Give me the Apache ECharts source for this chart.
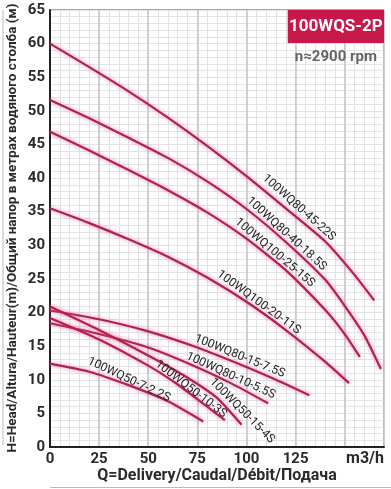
<!DOCTYPE html>
<html><head><meta charset="utf-8">
<script src="https://cdn.jsdelivr.net/npm/echarts@6/dist/echarts.min.js"></script>
<style>html,body{margin:0;padding:0;background:#fff}#c{width:391px;height:489px}</style>
</head><body><div id="c"></div><script>
// ---- data ----
const curveNames = ['100WQ80-45-22S','100WQ80-40-18.5S','100WQ100-25-15S','100WQ100-20-11S','100WQ80-15-7.5S','100WQ80-10-5.5S','100WQ50-15-4S','100WQ50-10-3S','100WQ50-7-2.2S'];
const q1 = [0,20,40,60,80,100,120,140,155,165];
const h1 = [60,56.5,52.9,49.0,44.8,40.3,35.5,30.6,25.6,21.8];
const q2 = [0,20,40,60,80,100,120,140,150,160,168.4];
const h2 = [51.6,48.9,46.0,43.0,39.5,35.4,30.5,24.9,21.0,16.6,11.6];
const q3 = [0,20,40,60,80,100,120,140,150,157.7];
const h3 = [46.9,44.1,41.2,38.2,34.9,31.0,26.3,20.4,16.8,13.4];
const q4 = [0,20,40,60,80,100,120,140,152.2];
const h4 = [35.5,33.3,30.9,28.3,25.2,21.6,17.4,12.7,9.5];
const q5 = [0,25,50,75,96.6,115,132];
const h5 = [20.3,19.0,17.2,14.8,12.3,10.0,7.7];
const q6 = [0,25,50,69,92,111];
const h6 = [18.4,16.8,14.8,12.6,9.5,6.5];
const q7 = [0,25,50,70,85,97.5];
const h7 = [20.9,17.4,13.6,10.3,7.3,3.3];
const q8 = [0,25,50,65,80,89];
const h8 = [19.2,16.0,12.1,9.3,6.0,4.0];
const q9 = [0,20,40,60,78];
const h9 = [12.4,11.2,9.2,6.8,3.8];
// curve label anchors (label centre in data units) and slope angle in degrees
const labelQ = [126.7,120.4,114.4,106.3,96.6,92,97.7,71.7,40.2];
const labelH = [35.6,31.7,28.9,21.5,13.5,10.6,5.4,8.6,10.0];
const labelAngle = [41.6,42,40,36,22,24.5,45,37.5,25];
const xTickLabels = [0,25,50,75,100,125];
const yTickLabels = [0,5,10,15,20,25,30,35,40,45,50,55,60,65];
const title = '100WQS-2P';
const subtitle = 'n\u22482900 rpm';
const xName = 'Q=Delivery/Caudal/D\u00e9bit/\u041f\u043e\u0434\u0430\u0447\u0430';
const yName = 'H=Head/Altura/Hauteur(m)/\u041e\u0431\u0449\u0438\u0439 \u043d\u0430\u043f\u043e\u0440 \u0432 \u043c\u0435\u0442\u0440\u0430\u0445 \u0432\u043e\u0434\u044f\u043d\u043e\u0433\u043e \u0441\u0442\u043e\u043b\u0431\u0430 (\u043c)';
const unitX = 'm3/h';

const Qs=[q1,q2,q3,q4,q5,q6,q7,q8,q9], Hs=[h1,h2,h3,h4,h5,h6,h7,h8,h9];
const FONT = "'Liberation Sans Narrow','Roboto','Noto Sans',sans-serif";
const LINE = '#b0214f';

const chart = echarts.init(document.getElementById('c'), null, {renderer:'canvas'});
const series = curveNames.map((n,i)=>({
  type:'line', name:n, xAxisIndex:0, yAxisIndex:0, smooth:0.2, symbol:'none',
  data: Qs[i].map((q,j)=>[q,Hs[i][j]]),
  lineStyle:{color:LINE,width:2.2,shadowColor:'rgba(235,90,140,0.75)',shadowBlur:4},
  z:5
}));
const option = {
  animation:false,
  backgroundColor:'#fff',
  grid:{left:50,top:10,right:7,bottom:42,show:true,borderColor:'#555',borderWidth:1,backgroundColor:'#fff'},
  xAxis:[
    {type:'value',min:0,max:170,interval:5,
     axisLine:{show:true,lineStyle:{color:'#222',width:2}},axisTick:{show:false},
     axisLabel:{margin:5,color:'#2a2a2a',fontFamily:FONT,fontWeight:'bold',fontSize:15,
       formatter:v=>xTickLabels.indexOf(v)>=0?String(v):'',hideOverlap:false,showMaxLabel:false},
     splitLine:{show:true,lineStyle:{color:'#e2e2e2',width:1}}},
    {type:'value',min:0,max:170,interval:25,show:true,
     axisLine:{show:false},axisTick:{show:false},axisLabel:{show:false},
     splitLine:{show:true,lineStyle:{color:'#c4c4c4',width:1.5}}}
  ],
  yAxis:[
    {type:'value',min:0,max:65,interval:5,
     axisLine:{show:true,lineStyle:{color:'#222',width:2}},axisTick:{show:false},
     axisLabel:{margin:5,color:'#2a2a2a',fontFamily:FONT,fontWeight:'bold',fontSize:15,
       formatter:v=>yTickLabels.indexOf(v)>=0?String(v):''},
     splitLine:{show:true,lineStyle:{color:'#cfcfcf',width:1}}},
    {type:'value',min:0,max:65,interval:1,
     axisLine:{show:false},axisTick:{show:false},axisLabel:{show:false},
     splitLine:{show:true,lineStyle:{color:'#e4e4e4',width:1}},z:0}
  ],
  series: series
};
chart.setOption(option);

const g = [];
// curve labels
curveNames.forEach((n,i)=>{
  const p = chart.convertToPixel({xAxisIndex:0,yAxisIndex:0},[labelQ[i],labelH[i]]);
  g.push({type:'text',x:p[0],y:p[1],rotation:-labelAngle[i]*Math.PI/180,z:20,
    style:{text:n,fontSize:12,fontFamily:"'Roboto','Noto Sans',sans-serif",fill:'#222',align:'center',verticalAlign:'middle'}});
});
// title box
const tl = chart.convertToPixel({xAxisIndex:0,yAxisIndex:0},[121,65]);
const br = chart.convertToPixel({xAxisIndex:0,yAxisIndex:0},[170,60]);
g.push({type:'rect',shape:{x:tl[0],y:tl[1],width:br[0]-tl[0],height:33},style:{fill:'#c8174b'},z:20});
g.push({type:'text',x:(tl[0]+br[0])/2,y:tl[1]+17,z:21,style:{text:title,fontSize:17,fontWeight:'bold',fontFamily:FONT,fill:'#fff',align:'center',verticalAlign:'middle'}});
g.push({type:'text',x:(tl[0]+br[0])/2,y:tl[1]+47,z:21,style:{text:subtitle,fontSize:15,fontWeight:'bold',fontFamily:FONT,fill:'#666',align:'center',verticalAlign:'middle'}});
// x unit and axis name
const xe = chart.convertToPixel({xAxisIndex:0,yAxisIndex:0},[170,0]);
g.push({type:'text',x:xe[0],y:xe[1]+12,z:21,style:{text:unitX,fontSize:16,fontWeight:'bold',fontFamily:FONT,fill:'#2a2a2a',align:'right',verticalAlign:'middle'}});
g.push({type:'text',x:217,y:476,z:21,style:{text:xName,fontSize:16,fontWeight:'bold',fontFamily:FONT,fill:'#2a2a2a',align:'center',verticalAlign:'middle'}});
g.push({type:'text',x:13,y:228,rotation:Math.PI/2,z:21,style:{text:yName,fontSize:13.5,fontWeight:'bold',fontFamily:FONT,fill:'#2a2a2a',align:'center',verticalAlign:'middle'}});
// decorative thin rules
g.push({type:'line',shape:{x1:3,y1:10,x2:3,y2:445},style:{stroke:'#bbb',lineWidth:1},z:1});
g.push({type:'line',shape:{x1:50,y1:487.5,x2:391,y2:487.5},style:{stroke:'#bbb',lineWidth:1},z:1});
chart.setOption({graphic:g});
</script></body></html>
